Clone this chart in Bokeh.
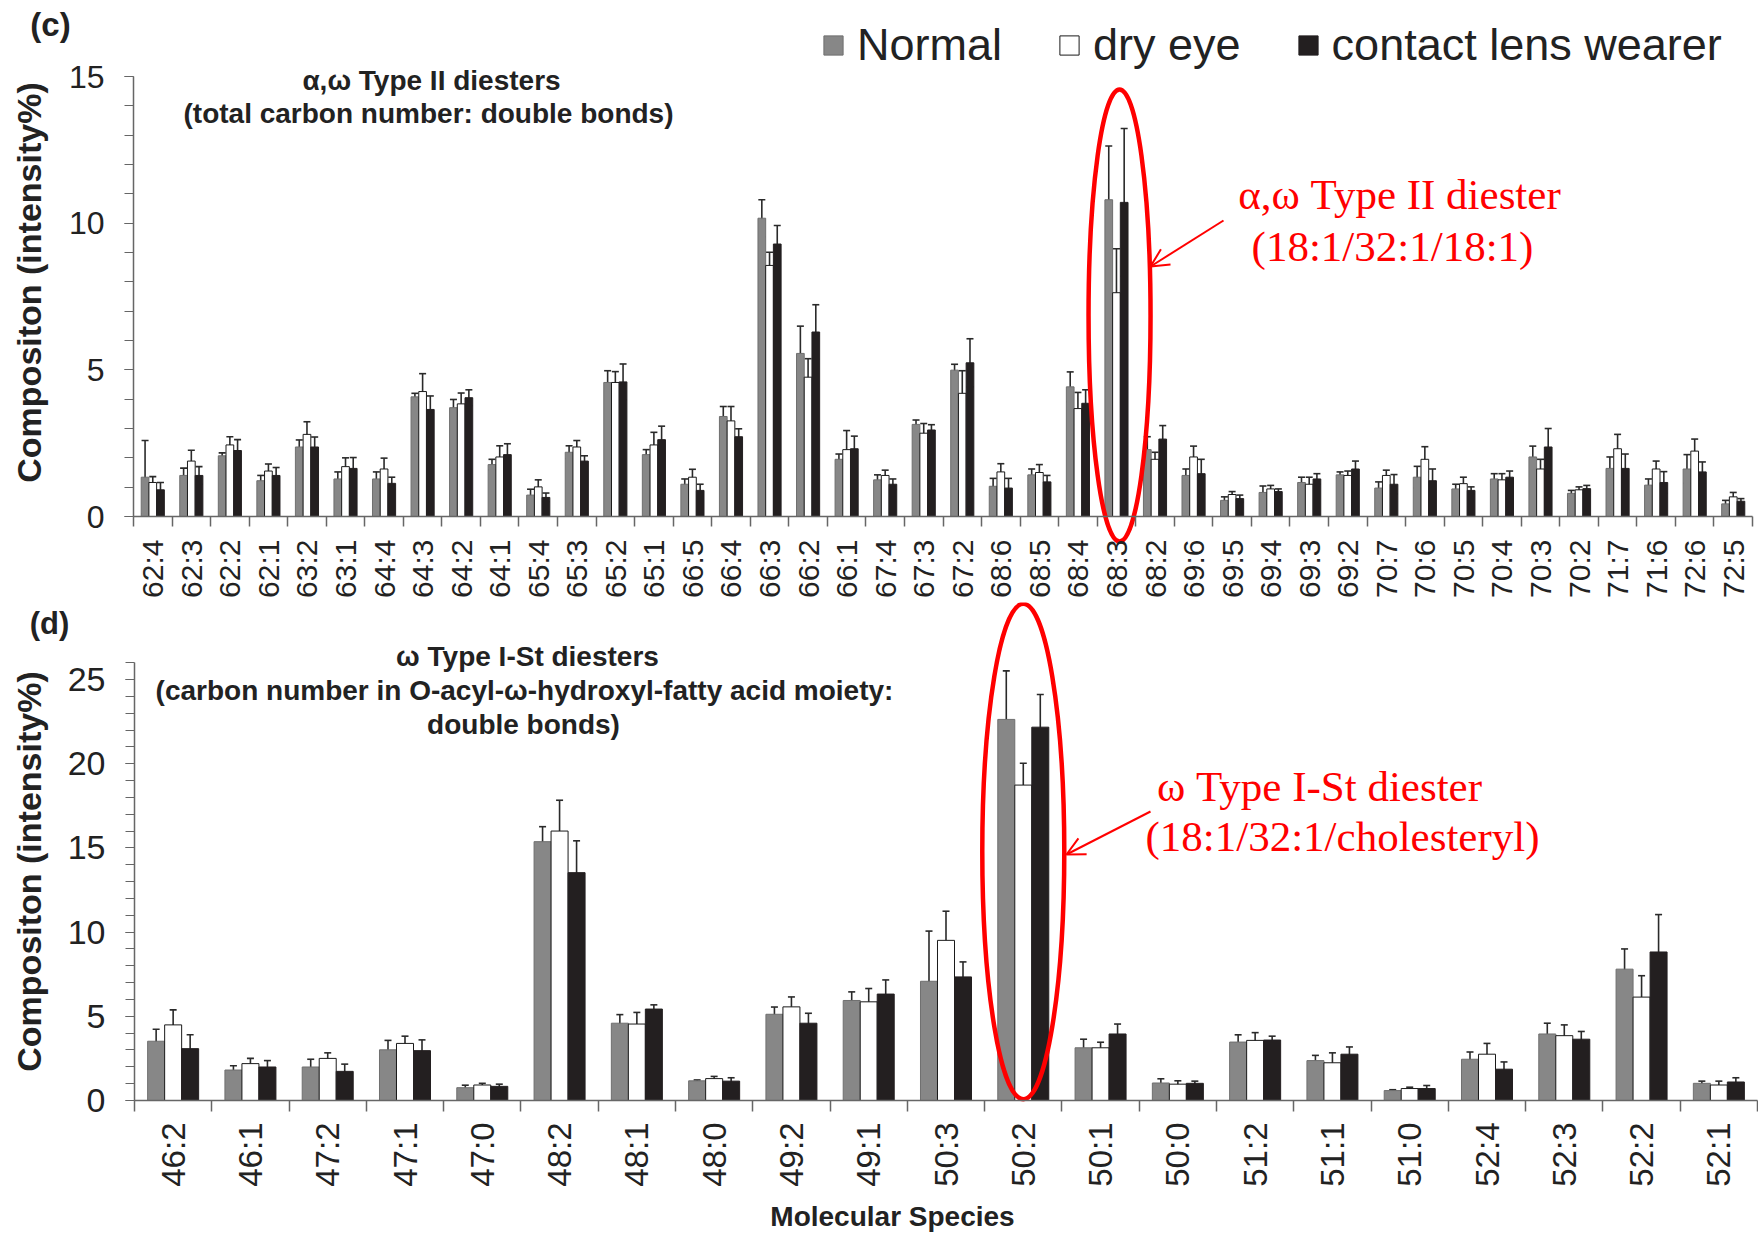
import math
import numpy as np
from bokeh.plotting import figure
from bokeh.models import (Range1d, FixedTicker, ColumnDataSource, Whisker, TeeHead,
                          Label, Legend, LegendItem, Arrow, OpenHead)
from bokeh.layouts import column
from bokeh.embed import file_html
from bokeh.resources import INLINE

# ---------------- data ----------------
top_cats = ["62:4", "62:3", "62:2", "62:1", "63:2", "63:1", "64:4", "64:3", "64:2", "64:1",
            "65:4", "65:3", "65:2", "65:1", "66:5", "66:4", "66:3", "66:2", "66:1", "67:4",
            "67:3", "67:2", "68:6", "68:5", "68:4", "68:3", "68:2", "69:6", "69:5", "69:4",
            "69:3", "69:2", "70:7", "70:6", "70:5", "70:4", "70:3", "70:2", "71:7", "71:6",
            "72:6", "72:5"]
top_normal = [1.34, 1.40, 2.07, 1.22, 2.37, 1.28, 1.28, 4.08, 3.71, 1.77, 0.73, 2.19,
              4.57, 2.11, 1.10, 3.41, 10.17, 5.56, 1.95, 1.25, 3.14, 4.99, 1.03, 1.42, 4.42, 10.80, 2.28,
              1.40, 0.55, 0.82, 1.16, 1.42, 0.97, 1.34, 0.94, 1.28, 2.03, 0.79, 1.64, 1.07, 1.62, 0.43]
top_normal_err = [1.25, 0.25, 0.10, 0.18, 0.24, 0.24, 0.24, 0.12, 0.28, 0.18, 0.20, 0.22,
                  0.40, 0.17, 0.18, 0.34, 0.63, 0.93, 0.18, 0.17, 0.15, 0.20, 0.27, 0.20, 0.51, 1.83, 0.44,
                  0.22, 0.12, 0.22, 0.18, 0.10, 0.21, 0.37, 0.16, 0.18, 0.37, 0.10, 0.39, 0.21, 0.49, 0.12]
top_dry = [1.16, 1.89, 2.44, 1.55, 2.80, 1.70, 1.62, 4.26, 3.84, 2.03, 1.01, 2.37,
           4.57, 2.44, 1.34, 3.26, 8.56, 4.75, 2.28, 1.40, 2.84, 4.20, 1.52, 1.50, 3.68, 7.63, 1.95,
           2.03, 0.75, 0.94, 1.10, 1.40, 1.40, 1.95, 1.12, 1.25, 1.62, 0.91, 2.31, 1.62, 2.23, 0.67]
top_dry_err = [0.20, 0.37, 0.28, 0.24, 0.43, 0.30, 0.37, 0.61, 0.37, 0.38, 0.24, 0.22,
               0.37, 0.43, 0.27, 0.49, 0.45, 0.63, 0.65, 0.18, 0.33, 0.77, 0.28, 0.27, 0.55, 1.50, 0.24,
               0.37, 0.10, 0.12, 0.24, 0.15, 0.18, 0.43, 0.22, 0.21, 0.33, 0.10, 0.49, 0.27, 0.41, 0.15]
top_contact = [0.91, 1.40, 2.25, 1.40, 2.37, 1.64, 1.13, 3.65, 4.05, 2.11, 0.65, 1.89,
               4.59, 2.62, 0.89, 2.72, 9.29, 6.29, 2.31, 1.10, 2.95, 5.24, 0.97, 1.18, 3.86, 10.71, 2.64,
               1.46, 0.61, 0.85, 1.28, 1.62, 1.10, 1.22, 0.89, 1.34, 2.37, 0.95, 1.64, 1.16, 1.52, 0.52]
top_contact_err = [0.25, 0.30, 0.37, 0.27, 0.34, 0.37, 0.21, 0.46, 0.27, 0.37, 0.15, 0.18,
                   0.61, 0.46, 0.21, 0.27, 0.63, 0.93, 0.43, 0.18, 0.18, 0.82, 0.33, 0.22, 0.46, 2.52, 0.46,
                   0.49, 0.12, 0.09, 0.18, 0.27, 0.33, 0.40, 0.12, 0.21, 0.63, 0.11, 0.49, 0.37, 0.34, 0.09]

bot_cats = ["46:2", "46:1", "47:2", "47:1", "47:0", "48:2", "48:1", "48:0", "49:2", "49:1",
            "50:3", "50:2", "50:1", "50:0", "51:2", "51:1", "51:0", "52:4", "52:3", "52:2", "52:1"]
bot_normal = [3.52, 1.81, 1.99, 3.01, 0.76, 15.37, 4.59, 1.17, 5.12, 5.94, 7.08,
              22.63, 3.13, 1.04, 3.47, 2.37, 0.59, 2.45, 3.95, 7.80, 1.02]
bot_normal_err = [0.71, 0.25, 0.46, 0.56, 0.15, 0.89, 0.51, 0.05, 0.43, 0.51, 2.98,
                  2.88, 0.51, 0.25, 0.43, 0.31, 0.05, 0.43, 0.64, 1.20, 0.13]
bot_dry = [4.49, 2.19, 2.50, 3.39, 0.92, 16.00, 4.54, 1.30, 5.56, 5.86, 9.51,
           18.73, 3.13, 0.97, 3.57, 2.24, 0.71, 2.75, 3.85, 6.14, 0.92]
bot_dry_err = [0.89, 0.31, 0.33, 0.43, 0.10, 1.83, 0.69, 0.13, 0.59, 0.79, 1.73,
               1.30, 0.33, 0.20, 0.46, 0.59, 0.08, 0.64, 0.64, 1.27, 0.23]
bot_contact = [3.08, 1.99, 1.73, 2.96, 0.84, 13.53, 5.43, 1.15, 4.59, 6.32, 7.34,
               22.17, 3.95, 1.02, 3.59, 2.75, 0.71, 1.86, 3.64, 8.82, 1.10]
bot_contact_err = [0.82, 0.38, 0.43, 0.64, 0.13, 1.89, 0.25, 0.20, 0.59, 0.84, 0.89,
                   1.94, 0.59, 0.13, 0.23, 0.43, 0.18, 0.43, 0.46, 2.22, 0.25]

series_names = ["Normal", "dry eye", "contact lens wearer"]
top_ticks = [0, 5, 10, 15]
bot_ticks = [0, 5, 10, 15, 20, 25]
y_title = "Compositon (intensity%)"

# ---------------- style ----------------
GRAY = "#878787"
BLACK = "#231f20"
AXIS_C = "#666666"
TXT = "#222222"
RED = "#ff0000"
SANS = "Liberation Sans"
SERIF = "Liberation Serif"
W = 1758


class Panel:
    """One bar panel. The frame covers the whole canvas; both axes are pinned
    (fixed_location) so that every text lies inside the frame."""

    def __init__(self, cats, vals, errs, *, height, left, right,
                 zero_px, ppu, ymax_axis, ticks, bar_w, ytick_fs, xtick_fs, xstandoff, ystandoff,
                 minor_len):
        self.n = len(cats)
        self.left, self.zero_px, self.ppu = left, zero_px, ppu
        self.cw = (W - left - right) / self.n
        p = figure(width=W, height=height,
                   x_range=Range1d(-0.5 - left / self.cw, self.n - 0.5 + right / self.cw),
                   y_range=Range1d(-(height - zero_px) / ppu, zero_px / ppu),
                   output_backend="svg", toolbar_location=None,
                   min_border_left=0, min_border_right=0,
                   min_border_top=0, min_border_bottom=0,
                   background_fill_color="white", border_fill_color="white",
                   outline_line_color=None)
        p.xgrid.visible = False
        p.ygrid.visible = False
        x = np.arange(self.n)
        fills = [GRAY, "white", BLACK]
        outlines = ["#6f6f6f", "#1a1a1a", BLACK]
        self.renderers = []
        for k, (v, e) in enumerate(zip(vals, errs)):
            v = np.asarray(v, dtype=float)
            e = np.asarray(e, dtype=float)
            xs = x + (k - 1) * bar_w
            src = ColumnDataSource(dict(x=xs, top=v, lower=v - e, upper=v + e))
            r = p.vbar(x="x", top="top", width=bar_w, source=src, fill_color=fills[k],
                       line_color=outlines[k], line_width=1.0)
            self.renderers.append(r)
            p.add_layout(Whisker(source=src, base="x", lower="lower", upper="upper",
                                 line_color="#2a2a2a", line_width=1.6,
                                 upper_head=TeeHead(size=7, line_color="#2a2a2a", line_width=1.6),
                                 lower_head=TeeHead(size=7, line_color="#2a2a2a", line_width=1.6)))
        xa = p.xaxis[0]
        xa.fixed_location = 0
        xa.ticker = FixedTicker(ticks=[int(i) for i in x],
                                minor_ticks=[float(i) - 0.5 for i in range(self.n + 1)])
        xa.major_label_overrides = {int(i): c for i, c in zip(x, cats)}
        xa.major_label_orientation = math.pi / 2
        xa.major_tick_line_color = None
        xa.major_tick_out = 0
        xa.major_tick_in = 0
        xa.minor_tick_line_color = AXIS_C
        xa.minor_tick_line_width = 1.5
        xa.minor_tick_out = minor_len
        xa.minor_tick_in = 0
        xa.axis_line_color = AXIS_C
        xa.axis_line_width = 1.5
        xa.bounds = (-0.5, self.n - 0.5)
        xa.major_label_standoff = xstandoff
        xa.major_label_text_font = SANS
        xa.major_label_text_font_size = f"{xtick_fs}px"
        xa.major_label_text_color = TXT

        ya = p.yaxis[0]
        ya.fixed_location = -0.5
        ya.ticker = FixedTicker(ticks=ticks, minor_ticks=list(range(0, ymax_axis + 1)))
        ya.bounds = (0, ymax_axis)
        ya.axis_line_color = AXIS_C
        ya.axis_line_width = 1.5
        ya.major_tick_line_color = AXIS_C
        ya.minor_tick_line_color = AXIS_C
        ya.major_tick_line_width = 1.2
        ya.minor_tick_line_width = 1.2
        ya.major_tick_out = 9
        ya.major_tick_in = 0
        ya.minor_tick_out = 9
        ya.minor_tick_in = 0
        ya.major_label_standoff = ystandoff
        ya.major_label_text_font = SANS
        ya.major_label_text_font_size = f"{ytick_fs}px"
        ya.major_label_text_color = TXT
        self.p = p

    def X(self, px):
        return -0.5 + (px - self.left) / self.cw

    def Y(self, py):
        return (self.zero_px - py) / self.ppu

    def label(self, px, py, text, size, font=SANS, style="normal", color=TXT, angle=0.0):
        self.p.add_layout(Label(x=self.X(px), y=self.Y(py), text=text, text_font=font,
                                text_font_size=f"{size}px", text_font_style=style,
                                text_color=color, text_align="center", text_baseline="middle",
                                angle=angle))

    def ellipse(self, cx, py, wpx, hpx):
        self.p.ellipse(x=[cx], y=[self.Y(py)], width=wpx / self.cw, height=hpx / self.ppu,
                       fill_color=None, line_color=RED, line_width=4.5)

    def arrow(self, x0, y0, x1, y1):
        self.p.add_layout(Arrow(end=OpenHead(size=18, line_color=RED, line_width=2),
                                x_start=self.X(x0), y_start=self.Y(y0),
                                x_end=self.X(x1), y_end=self.Y(y1),
                                line_color=RED, line_width=2))


# ---------------- top panel (c) ----------------
TOP_H = 602
top = Panel(top_cats, [top_normal, top_dry, top_contact],
            [top_normal_err, top_dry_err, top_contact_err],
            height=TOP_H, left=133, right=6, zero_px=516, ppu=29.33,
            ymax_axis=15, ticks=top_ticks, bar_w=0.2, ytick_fs=32, xtick_fs=30,
            xstandoff=13, ystandoff=20, minor_len=10)
top.label(50, 24, "(c)", 33, style="bold")
top.label(28, 282, y_title, 34, style="bold", angle=math.pi / 2)
top.label(431, 80, "α,ω Type II diesters", 28, style="bold")
top.label(428, 113, "(total carbon number: double bonds)", 28, style="bold")
top.ellipse(top_cats.index("68:3") + 0.08, 315, 62, 452)
top.arrow(1223, 220, 1150, 266)
top.label(1399, 194, "α,ω Type II diester", 43, font=SERIF, color=RED)
top.label(1392, 246, "(18:1/32:1/18:1)", 43, font=SERIF, color=RED)

legend = Legend(items=[LegendItem(label=nm, renderers=[r]) for nm, r in zip(series_names, top.renderers)],
                orientation="horizontal", location=(821, 531),
                glyph_width=24, glyph_height=24, label_standoff=12, spacing=55,
                padding=0, margin=0, border_line_color=None, background_fill_alpha=0,
                label_text_font=SANS, label_text_font_size="45px", label_text_color=TXT)
top.p.add_layout(legend)

# ---------------- bottom panel (d) ----------------
BOT_H = 1233 - TOP_H
OFF = TOP_H
bot = Panel(bot_cats, [bot_normal, bot_dry, bot_contact],
            [bot_normal_err, bot_dry_err, bot_contact_err],
            height=BOT_H, left=134, right=1, zero_px=1100 - OFF, ppu=16.84,
            ymax_axis=26, ticks=bot_ticks, bar_w=0.22, ytick_fs=34, xtick_fs=33,
            xstandoff=11, ystandoff=20, minor_len=11)
bot.label(49, 623 - OFF, "(d)", 31, style="bold")
bot.label(28, 871 - OFF, y_title, 34, style="bold", angle=math.pi / 2)
bot.label(527, 656 - OFF, "ω Type I-St diesters", 28, style="bold")
bot.label(524, 690 - OFF, "(carbon number in O-acyl-ω-hydroxyl-fatty acid moiety:", 28, style="bold")
bot.label(523, 724 - OFF, "double bonds)", 28, style="bold")
bot.label(892, 1216 - OFF, "Molecular Species", 28, style="bold")
bot.ellipse(bot_cats.index("50:2"), 851 - OFF, 82, 496)
bot.arrow(1150, 811 - OFF, 1066, 854 - OFF)
bot.label(1319, 786 - OFF, "ω Type I-St diester", 43, font=SERIF, color=RED)
bot.label(1342, 836 - OFF, "(18:1/32:1/cholesteryl)", 43, font=SERIF, color=RED)

layout = column(top.p, bot.p, spacing=0)
open("out.html", "w").write(file_html(layout, INLINE, title="Diesters composition"))
